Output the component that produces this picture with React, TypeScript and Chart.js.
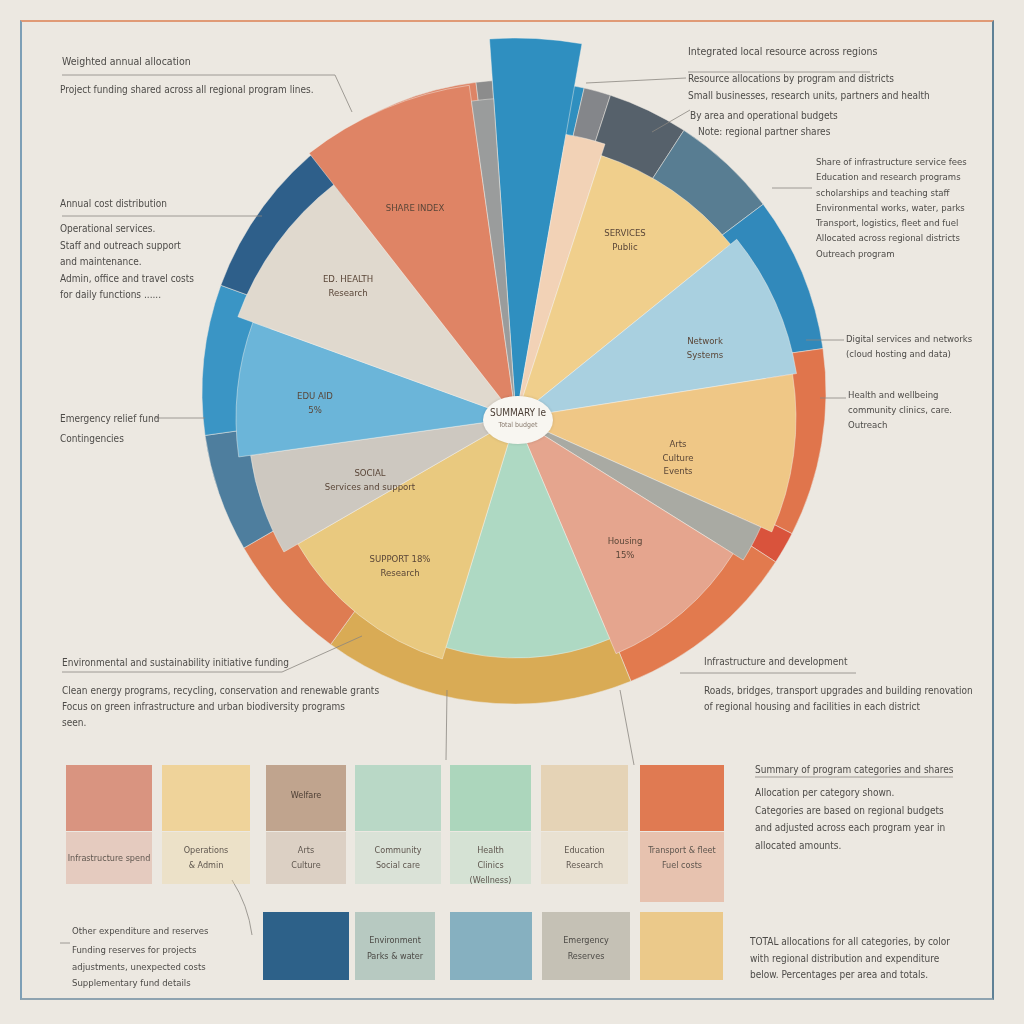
import React, { useEffect, useRef } from "react";
import { Chart, registerables } from "chart.js";
Chart.register(...registerables);

// Inner slices (polar area): value = relative reach, angle = share in degrees
const sliceLabels = ["Digital", "Partners", "Services", "Network", "Arts", "Reserve", "Housing", "Health", "Support", "Social", "Edu Aid", "Ed. Health", "Share Index", "Other"];
const sliceValues = [95, 72, 69, 71, 70, 67, 64, 60, 63, 67, 70, 74, 84, 80];
const sliceAngles = [14, 8, 33, 30, 33, 8, 35, 40, 43, 22, 28, 32, 30, 4];
const sliceColors = ["#2f8fc0", "#f2d2b6", "#f0cf8c", "#a9d0e0", "#efc786", "#a9aaa3", "#e5a58e", "#aed9c3", "#e9c97f", "#cdc8c0", "#6bb5d9", "#e0d9ce", "#df8465", "#9a9c9c"];

// Outer ring (doughnut): shares in degrees
const ringLabels = ["Digital", "Admin", "Districts", "Regions", "Network", "Culture", "Reserve", "Housing", "Environment", "Transport", "Social", "Education", "Emergency", "Share", "Other"];
const ringShares = [17, 5, 15, 20, 29, 35, 6, 35, 58, 24, 22, 28, 33, 30, 3];
const ringColors = ["#2f8fbf", "#84868a", "#56616b", "#587d92", "#3189bb", "#e0754c", "#d9533c", "#e27a4e", "#d9ab55", "#de7c52", "#4e7e9e", "#3a95c5", "#2e5f8a", "#dd8466", "#8c8c8c"];

const FONT = '"Liberation Sans Narrow", "DejaVu Sans Condensed", "Roboto", sans-serif';

type T = { x: number; y: number; lines: string[]; size?: number; lh?: number };

const notes: T[] = [
  { x: 62, y: 54, lines: ["Weighted annual allocation"], size: 10.5 },
  { x: 60, y: 83, lines: ["Project funding shared across all regional program lines."], size: 10 },
  { x: 688, y: 44, lines: ["Integrated local resource across regions"], size: 10.5 },
  { x: 688, y: 72, lines: ["Resource allocations by program and districts"], size: 10 },
  { x: 688, y: 89, lines: ["Small businesses, research units, partners and health"], size: 10 },
  { x: 690, y: 109, lines: ["By area and operational budgets"], size: 10 },
  { x: 698, y: 125, lines: ["Note: regional partner shares"], size: 10 },
  { x: 60, y: 197, lines: ["Annual cost distribution"], size: 10 },
  { x: 60, y: 221, lines: ["Operational services.", "Staff and outreach support", "and maintenance.", "Admin, office and travel costs", "for daily functions ......"], size: 10, lh: 16.5 },
  { x: 816, y: 154, lines: ["Share of infrastructure service fees", "Education and research programs", "scholarships and teaching staff", "Environmental works, water, parks", "Transport, logistics, fleet and fuel", "Allocated across regional districts", "Outreach program"], size: 9.5, lh: 15.3 },
  { x: 846, y: 331, lines: ["Digital services and networks", "(cloud hosting and data)"], size: 9.5, lh: 15 },
  { x: 848, y: 387, lines: ["Health and wellbeing", "community clinics, care.", "Outreach"], size: 9.5, lh: 15 },
  { x: 60, y: 412, lines: ["Emergency relief fund"], size: 10 },
  { x: 60, y: 432, lines: ["Contingencies"], size: 10 },
  { x: 62, y: 656, lines: ["Environmental and sustainability initiative funding"], size: 10 },
  { x: 62, y: 683, lines: ["Clean energy programs, recycling, conservation and renewable grants", "Focus on green infrastructure and urban biodiversity programs", "seen."], size: 10, lh: 16 },
  { x: 704, y: 655, lines: ["Infrastructure and development"], size: 10 },
  { x: 704, y: 683, lines: ["Roads, bridges, transport upgrades and building renovation", "of regional housing and facilities in each district"], size: 10, lh: 16 },
  { x: 755, y: 763, lines: ["Summary of program categories and shares"], size: 10 },
  { x: 755, y: 784, lines: ["Allocation per category shown.", "Categories are based on regional budgets", "and adjusted across each program year in", "allocated amounts."], size: 10, lh: 17.5 },
  { x: 72, y: 924, lines: ["Other expenditure and reserves"], size: 9.5 },
  { x: 72, y: 942, lines: ["Funding reserves for projects", "adjustments, unexpected costs", "Supplementary fund details"], size: 9.5, lh: 16.5 },
  { x: 750, y: 934, lines: ["TOTAL allocations for all categories, by color", "with regional distribution and expenditure", "below. Percentages per area and totals."], size: 10, lh: 16.5 },
];

const sliceTexts: T[] = [
  { x: 415, y: 201, lines: ["SHARE INDEX"] },
  { x: 348, y: 272, lines: ["ED. HEALTH", "Research"] },
  { x: 315, y: 389, lines: ["EDU  AID", "5%"] },
  { x: 370, y: 466, lines: ["SOCIAL", "Services and support"] },
  { x: 400, y: 552, lines: ["SUPPORT  18%", "Research"] },
  { x: 625, y: 534, lines: ["Housing", "15%"] },
  { x: 678, y: 437, lines: ["Arts", "Culture", "Events"] },
  { x: 705, y: 334, lines: ["Network", "Systems"] },
  { x: 625, y: 226, lines: ["SERVICES", "Public"] },
];

const row1Colors = ["#d99480", "#efd39a", "#c0a48e", "#b9d8c6", "#acd6bc", "#e5d3b6", "#e07a52"];
const row1X = [66, 162, 266, 355, 450, 541, 640];
const row1W = [86, 88, 80, 86, 81, 87, 84];
const row1Sub = [["Infrastructure spend"], ["Operations", "& Admin"], ["Arts", "Culture"], ["Community", "Social care"], ["Health", "Clinics", "(Wellness)"], ["Education", "Research"], ["", "Transport & fleet", "Fuel costs"]];
const row2Colors = ["#2d6189", "#b7c9c1", "#86b0c0", "#c5c1b5", "#ebc98a"];
const row2X = [263, 355, 450, 542, 640];
const row2W = [86, 80, 82, 88, 83];
const row2Text = [[], ["Environment", "Parks & water"], [], ["Emergency", "Reserves"], []];

function Txt({ t, dark }: { t: T; dark?: boolean }) {
  const size = t.size ?? 9.5;
  const lh = t.lh ?? size + 4;
  return (
    <div style={{ position: "absolute", left: t.x, top: t.y, fontFamily: FONT, fontSize: size, lineHeight: lh + "px", color: dark ? "#5a4638" : "#4d4b48", whiteSpace: "nowrap", transform: dark ? "translateX(-50%)" : undefined }}>
      {t.lines.map((l, i) => (
        <div key={i} style={{ textAlign: dark ? "center" : "left" }}>{l}</div>
      ))}
    </div>
  );
}

export default function App() {
  const ringRef = useRef<HTMLCanvasElement>(null);
  const polarRef = useRef<HTMLCanvasElement>(null);

  useEffect(() => {
    const ring = new Chart(ringRef.current!, {
      type: "doughnut",
      data: {
        labels: ringLabels,
        datasets: [{ data: ringShares, backgroundColor: ringColors, borderColor: "rgba(236,232,225,0.5)", borderWidth: 1 }],
      },
      options: {
        responsive: false,
        animation: false,
        rotation: -4,
        radius: 312,
        cutout: 282,
        layout: { padding: 0 },
        plugins: { legend: { display: false }, tooltip: { enabled: false } },
      },
    });
    const polar = new Chart(polarRef.current!, {
      type: "polarArea",
      data: {
        labels: sliceLabels,
        datasets: [{
          data: sliceValues,
          backgroundColor: sliceColors,
          borderColor: "rgba(245,242,236,0.45)",
          borderWidth: 1,
          angle: (ctx: any) => sliceAngles[ctx.dataIndex],
        } as any],
      },
      options: {
        responsive: false,
        animation: false,
        layout: { padding: 0 },
        scales: { r: { display: false, min: 0, max: 100, startAngle: -4 } as any },
        plugins: { legend: { display: false }, tooltip: { enabled: false } },
      } as any,
    });
    return () => {
      ring.destroy();
      polar.destroy();
    };
  }, []);

  const lineColor = "#8a8680";

  return (
    <div style={{ position: "fixed", left: 0, top: 0, width: 1024, height: 1024, background: "#ece8e1", overflow: "hidden" }}>
      <div style={{ position: "absolute", left: 20, top: 20, width: 974, height: 980, borderTop: "2px solid #e09a76", borderLeft: "2px solid #7d9fb6", borderRight: "2px solid #5f8196", borderBottom: "2px solid #8ea3b0", boxSizing: "border-box" }} />
      <canvas ref={ringRef} width={700} height={700} style={{ position: "absolute", left: 164, top: 42 }} />
      <canvas ref={polarRef} width={800} height={800} style={{ position: "absolute", left: 116, top: 18 }} />
      <div style={{ position: "absolute", left: 483, top: 396, width: 70, height: 48, borderRadius: "50%", background: "#f8f6f1", boxShadow: "0 0 3px rgba(0,0,0,0.15)" }} />
      <div style={{ position: "absolute", left: 518, top: 407, transform: "translateX(-50%)", fontFamily: FONT, fontSize: 10, color: "#4a3d34", textAlign: "center", lineHeight: "12px", whiteSpace: "nowrap" }}>
        <div>SUMMARY Ie</div>
        <div style={{ fontSize: 7, color: "#8a7c70" }}>Total budget</div>
      </div>
      <svg width={1024} height={1024} style={{ position: "absolute", left: 0, top: 0 }}>
        <g stroke={lineColor} strokeWidth={0.8} fill="none">
          <polyline points="62,75 335,75 352,112" />
          <line x1={688} y1={72} x2={870} y2={72} />
          <line x1={586} y1={83} x2={686} y2={78} />
          <line x1={652} y1={132} x2={690} y2={110} />
          <line x1={62} y1={216} x2={262} y2={216} />
          <line x1={772} y1={188} x2={812} y2={188} />
          <line x1={806} y1={340} x2={844} y2={340} />
          <line x1={820} y1={398} x2={846} y2={398} />
          <line x1={155} y1={418} x2={205} y2={418} />
          <polyline points="62,672 282,672 362,636" />
          <line x1={680} y1={673} x2={856} y2={673} />
          <line x1={620} y1={690} x2={634} y2={765} />
          <line x1={447} y1={690} x2={446} y2={760} />
          <line x1={755} y1={777} x2={953} y2={777} />
          <path d="M232,880 Q248,905 252,935" />
          <line x1={60} y1={943} x2={70} y2={943} />
        </g>
      </svg>
      {notes.map((t, i) => <Txt key={i} t={t} />)}
      {sliceTexts.map((t, i) => <Txt key={"s" + i} t={t} dark />)}
      {row1Colors.map((c, i) => (
        <React.Fragment key={"r1" + i}>
          <div style={{ position: "absolute", left: row1X[i], top: 765, width: row1W[i], height: 66, background: c }} />
          <div style={{ position: "absolute", left: row1X[i], top: 832, width: row1W[i], height: i === 6 ? 70 : 52, background: c, opacity: 0.35 }} />
          <div style={{ position: "absolute", left: row1X[i], top: i === 0 ? 851 : 843, width: row1W[i], fontFamily: FONT, fontSize: 9, lineHeight: "15px", color: "#5e564e", textAlign: "center", whiteSpace: "nowrap" }}>
            {row1Sub[i].map((l, j) => <div key={j}>{l}</div>)}
          </div>
        </React.Fragment>
      ))}
      <div style={{ position: "absolute", left: 266, top: 790, width: 80, fontFamily: FONT, fontSize: 9, color: "#4c3e34", textAlign: "center" }}>Welfare</div>
      {row2Colors.map((c, i) => (
        <React.Fragment key={"r2" + i}>
          <div style={{ position: "absolute", left: row2X[i], top: 912, width: row2W[i], height: 68, background: c }} />
          <div style={{ position: "absolute", left: row2X[i], top: 932, width: row2W[i], fontFamily: FONT, fontSize: 9, lineHeight: "16px", color: "#4c4a46", textAlign: "center", whiteSpace: "nowrap" }}>
            {row2Text[i].map((l, j) => <div key={j}>{l}</div>)}
          </div>
        </React.Fragment>
      ))}
    </div>
  );
}
